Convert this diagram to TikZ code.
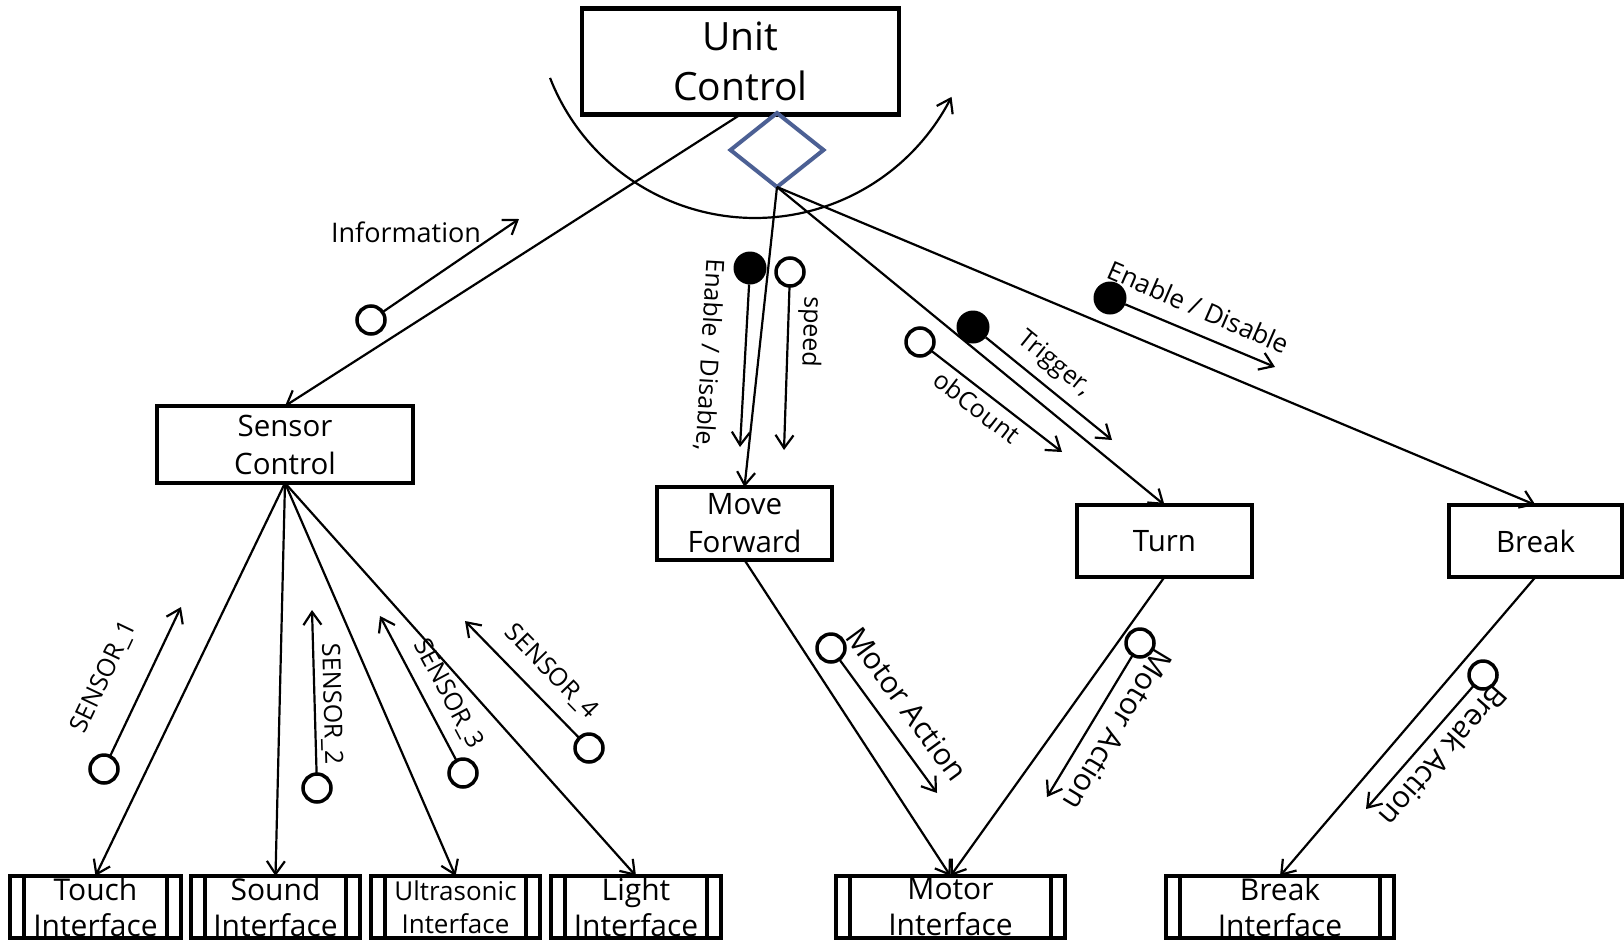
\documentclass[tikz,border=0pt]{standalone}
\usepackage{fontspec}
\setmainfont{Open Sans}
\usetikzlibrary{arrows.meta,shapes.geometric}

\definecolor{slate}{RGB}{76,96,148}

\begin{document}
\begin{tikzpicture}[x=1pt,y=-1pt,
  box/.style={draw, line width=4pt, inner sep=0pt, outer sep=0pt, align=center,
    font=\fontsize{29.5}{38}\selectfont},
  iface/.style={draw, line width=4.5pt, inner sep=0pt, outer sep=0pt,
    minimum height=62pt, align=center, font=\fontsize{30}{36}\selectfont,
    path picture={
      \draw[line width=4pt] ([xshift=14pt]path picture bounding box.north west)
        -- ([xshift=14pt]path picture bounding box.south west);
      \draw[line width=4pt] ([xshift=-14pt]path picture bounding box.north east)
        -- ([xshift=-14pt]path picture bounding box.south east);}},
  link/.style={line width=2.2pt, -{Straight Barb[length=13pt,width=18pt]}},
  openport/.style={circle, draw, line width=3.5pt, minimum size=28pt,
    inner sep=0pt, outer sep=0pt, fill=white},
  fullport/.style={circle, fill=black, minimum size=33pt, inner sep=0pt, outer sep=0pt},
  lab/.style={inner sep=0pt, font=\fontsize{25}{30}\selectfont},
  biglab/.style={inner sep=0pt, font=\fontsize{30}{36}\selectfont}
]
\useasboundingbox (0,0) rectangle (1624,940);

% ---- boxes ----
\node[box, line width=4.5pt, minimum width=317pt, minimum height=106pt,
      font=\fontsize{39}{50}\selectfont] (uc) at (740.5,61.5) {Unit\\Control};
\node[diamond, draw=slate, line width=4pt, minimum width=93pt, minimum height=74pt,
      aspect=1.25, inner sep=0pt, outer sep=0pt] (dm) at (777,150) {};
\node[box, minimum width=256pt, minimum height=77pt] (sc) at (285,444.5) {Sensor\\Control};
\node[box, minimum width=175pt, minimum height=73pt] (mf) at (744.5,523.5) {Move\\Forward};
\node[box, minimum width=175pt, minimum height=72pt] (tn) at (1164.5,541) {Turn};
\node[box, minimum width=173pt, minimum height=72pt] (bk) at (1535.5,541) {Break};

\node[iface, minimum width=171pt] (ti) at (95.5,907) {Touch\\Interface};
\node[iface, minimum width=169pt] (si) at (275.5,907) {Sound\\Interface};
\node[iface, minimum width=169pt, font=\fontsize{26}{33}\selectfont] (ui) at (455.5,907) {Ultrasonic\\Interface};
\node[iface, minimum width=170pt] (li) at (636,907) {Light\\Interface};
\node[iface, minimum width=229pt] (mi) at (950.5,907) {Motor\\Interface};
\node[iface, minimum width=228pt] (bi) at (1280,907) {Break\\Interface};

% ---- control loop arc ----
\draw[link] plot[domain=158.7:26.7, samples=90] ({755+220*cos(\x)},{-2+220*sin(\x)});

% ---- structural connectors ----
\draw[link] (uc.south) -- (sc.north);
\draw[link] (dm.south) -- (mf.north);
\draw[link] (dm.south) -- (tn.north);
\draw[link] (dm.south) -- (bk.north);
\draw[link] (sc.south) -- (ti.north);
\draw[link] (sc.south) -- (si.north);
\draw[link] (sc.south) -- (ui.north);
\draw[link] (sc.south) -- (li.north);
\draw[link] (mf.south) -- (mi.north);
\draw[link] (tn.south) -- (mi.north);
\draw[link] (bk.south) -- (bi.north);

% ---- data couples ----
\node[openport] (p0) at (371,320) {};
\coordinate (q0) at (519,219);
\draw[link] (p0) -- (q0);
\node[inner sep=0pt, font=\fontsize{27}{32}\selectfont] (l0) at (406,232) {Information};

\node[openport] (p1) at (104,769) {};
\coordinate (q1) at (181,607);
\draw[link] (p1) -- (q1);
\node[lab, rotate=64.6] (l1) at (104,677) {SENSOR\_1};

\node[openport] (p2) at (317,788) {};
\coordinate (q2) at (312,610);
\draw[link] (p2) -- (q2);
\node[lab, rotate=-88.4] (l2) at (331,704) {SENSOR\_2};

\node[openport] (p3) at (463,773) {};
\coordinate (q3) at (380,616);
\draw[link] (p3) -- (q3);
\node[lab, rotate=-62] (l3) at (448,694) {SENSOR\_3};

\node[openport] (p4) at (589,748) {};
\coordinate (q4) at (465,621);
\draw[link] (p4) -- (q4);
\node[lab, rotate=-45.7] (l4) at (551,672) {SENSOR\_4};

\node[fullport] (p5) at (750,268) {};
\coordinate (q5) at (740,447);
\draw[link] (p5) -- (q5);
\node[lab, rotate=-93.2] (l5) at (709,355) {Enable / Disable,};

\node[openport] (p6) at (790,272) {};
\coordinate (q6) at (784,450);
\draw[link] (p6) -- (q6);
\node[lab, rotate=-91.9] (l6) at (810,332) {speed};

\node[fullport] (p7) at (973,327) {};
\coordinate (q7) at (1112,440);
\draw[link] (p7) -- (q7);
\node[lab, rotate=-39.1] (l7) at (1054,364) {Trigger,};

\node[openport] (p8) at (920,342) {};
\coordinate (q8) at (1062,452);
\draw[link] (p8) -- (q8);
\node[lab, rotate=-37.8] (l8) at (977,407) {obCount};

\node[fullport] (p9) at (1110,298) {};
\coordinate (q9) at (1275,367);
\draw[link] (p9) -- (q9);
\node[lab, font=\fontsize{26}{31}\selectfont, rotate=-23.5] (l9) at (1199,307) {Enable / Disable};

\node[openport] (p10) at (831,648) {};
\coordinate (q10) at (937,793);
\draw[link] (p10) -- (q10);
\node[biglab, rotate=-53.8] (l10) at (907,704) {Motor Action};

\node[openport] (p11) at (1140,643) {};
\coordinate (q11) at (1047,797);
\draw[link] (p11) -- (q11);
\node[biglab, rotate=-121.1] (l11) at (1118,730) {Motor Action};

\node[openport] (p12) at (1483,675) {};
\coordinate (q12) at (1366,809);
\draw[link] (p12) -- (q12);
\node[biglab, rotate=-131.1] (l12) at (1444,756) {Break Action};
\end{tikzpicture}
\end{document}
